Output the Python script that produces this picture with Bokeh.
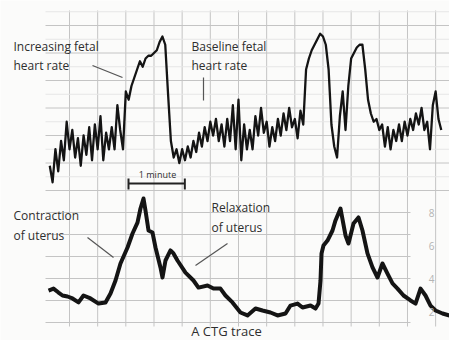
from bokeh.plotting import figure
from bokeh.models import Range1d, Label
from bokeh.embed import file_html
from bokeh.resources import INLINE

# ---- data -------------------------------------------------------------
# Fetal heart rate (bpm), sampled every 0.05 min starting at 0.15 min
fhr_t0 = 0.15
fhr_dt = 0.05
fhr_bpm = [
    129, 123, 135, 127, 138, 131, 145, 135, 142, 132,
    139, 129, 140, 133, 143, 131, 144, 135, 147, 131,
    141, 135, 143, 135, 151, 142, 135, 156, 153, 158,
    161, 164, 167, 165, 168, 169, 169, 170, 171, 174,
    176, 173, 155, 138, 132, 135, 130, 135, 131, 136,
    132, 138, 134, 141, 136, 143, 138, 145, 140, 146,
    138, 144, 136, 146, 138, 151, 135, 153, 131, 144,
    135, 142, 135, 147, 140, 150, 141, 145, 136, 143,
    138, 146, 140, 148, 142, 150, 143, 146, 139, 149,
    144, 164, 168, 171, 173, 175, 177, 176, 173, 164,
    144, 136, 132, 147, 156, 142, 158, 168, 170, 172,
    173, 173, 164, 153, 148, 145, 146, 142, 144, 136,
    143, 135, 142, 138, 144, 138, 145, 140, 146, 142,
    148, 144, 150, 142, 145, 135, 151, 156, 146, 142,
]
fhr_time = [round(fhr_t0 + i * fhr_dt, 3) for i in range(len(fhr_bpm))]

# Uterine activity (pressure scale, labels 2,4,6,8)
ua_time = [
    0.128, 0.216, 0.305, 0.376, 0.465, 0.553, 0.660, 0.749, 0.873, 1.015,
    1.139, 1.228, 1.317, 1.405, 1.530, 1.619, 1.707, 1.760, 1.814, 1.849,
    1.903, 1.973, 2.027, 2.115, 2.151, 2.204, 2.293, 2.346, 2.417, 2.559,
    2.701, 2.790, 2.950, 3.056, 3.180, 3.269, 3.393, 3.535, 3.660, 3.802,
    3.926, 4.068, 4.193, 4.335, 4.423, 4.548, 4.637, 4.779, 4.868, 4.921,
    4.956, 4.974, 5.009, 5.080, 5.169, 5.222, 5.311, 5.400, 5.453, 5.542,
    5.630, 5.701, 5.790, 5.879, 5.968, 6.056, 6.145, 6.234, 6.323, 6.430,
    6.554, 6.643, 6.732, 6.820, 6.909, 6.998, 7.122, 7.246,
]
ua_pressure = [
    3.27, 3.39, 3.15, 2.97, 2.91, 2.79, 2.55, 2.97, 2.79, 2.48,
    2.55, 3.09, 3.88, 4.91, 5.88, 6.73, 7.39, 8.24, 8.85, 8.12,
    6.91, 6.79, 5.88, 4.67, 4.06, 5.09, 5.70, 5.52, 5.09, 4.36,
    3.88, 3.45, 3.58, 3.39, 3.39, 2.97, 2.55, 1.94, 1.76, 2.18,
    2.06, 1.94, 1.76, 1.88, 2.36, 2.48, 2.24, 2.36, 2.18, 2.48,
    3.88, 5.52, 6.00, 6.30, 6.91, 7.52, 8.24, 6.61, 6.12, 7.33,
    7.70, 6.91, 5.52, 4.67, 4.06, 4.91, 4.30, 3.70, 3.39, 2.97,
    2.67, 2.48, 3.39, 2.97, 2.36, 2.06, 1.88, 1.76,
]
ua_tick_values = [8, 6, 4, 2]
ua_tick_labels = ["8", "6", "4", "2"]

# ---- page-space helpers (layout only) ---------------------------------
def tx(xpx):
    return (xpx - 40.83) / 56.33

def fy(ypx):
    return 180 - (ypx - 25) / 2.75

W, H = 449, 340
p = figure(width=W, height=H, output_backend="svg", toolbar_location=None,
           x_range=Range1d(tx(0), tx(W)), y_range=Range1d(fy(H), fy(0)),
           min_border=0)
p.extra_y_ranges = {"ua": Range1d((344 - H) / 16.5, 344 / 16.5)}
p.xaxis.visible = False
p.yaxis.visible = False
p.xgrid.visible = False
p.ygrid.visible = False
p.outline_line_color = None
p.background_fill_color = "#fbfbfa"
p.border_fill_color = "#fbfbfa"

grid_col = "#c4c4c4"
minor_col = "#e6e6e6"

# vertical grid lines (every half minute)
vx = [0.5 * k for k in range(1, 15)]
p.segment(x0=vx, y0=[fy(10)] * len(vx), x1=vx, y1=[fy(326)] * len(vx),
          line_color=grid_col, line_width=1)
# minor horizontal lines
mh = [185, 175, 165, 155, 145, 135, 125]
p.segment(x0=[tx(45)] * len(mh), y0=mh, x1=[tx(449)] * len(mh), y1=mh,
          line_color=minor_col, line_width=1)
# horizontal grid lines, heart-rate panel
hb = [180, 170, 160, 150, 140, 130, 120]
p.segment(x0=[tx(45)] * len(hb), y0=hb, x1=[tx(449)] * len(hb), y1=hb,
          line_color=grid_col, line_width=1)
# horizontal grid lines, uterine panel
hu = [8 - k * 4 / 3 for k in range(6)]
p.segment(x0=[tx(45)] * len(hu), y0=hu, x1=[tx(410)] * len(hu), y1=hu,
          line_color=grid_col, line_width=1, y_range_name="ua")

# traces
p.line(fhr_time, fhr_bpm, line_color="#141414", line_width=2.3,
       line_join="round")
p.line(ua_time, ua_pressure, line_color="#141414", line_width=4,
       line_join="round", y_range_name="ua")

# right-side scale labels
p.text(x=[tx(431)] * 4, y=ua_tick_values, text=ua_tick_labels,
       y_range_name="ua", text_color="#b4b4b4", text_font_size="10px",
       text_align="center", text_baseline="middle",
       text_font={"value": "Open Sans"})

txt_col = "#2e2e2e"
font = "Open Sans"

def label(x, y, s, size="12px", align="left", baseline="top"):
    p.add_layout(Label(x=tx(x), y=fy(y), text=s, text_font=font,
                       text_font_size=size, text_color=txt_col,
                       text_align=align, text_baseline=baseline))

label(13, 37, "Increasing fetal")
label(13, 56, "heart rate")
label(191, 37, "Baseline fetal")
label(191, 56, "heart rate")
label(13, 206, "Contraction")
label(13, 226, "of uterus")
label(211, 198, "Relaxation")
label(211, 218, "of uterus")
label(157, 180, "1 minute", size="9px", align="center", baseline="bottom")
label(226, 339, "A CTG trace", size="13px", align="center", baseline="bottom")

# pointer lines
ptr = dict(line_color="#555555", line_width=1.2)
p.line([tx(92), tx(122)], [fy(65), fy(77)], **ptr)
p.line([tx(203), tx(203)], [fy(77), fy(100)], **ptr)
p.line([tx(87), tx(113)], [fy(237), fy(257)], **ptr)
p.line([tx(227), tx(195)], [fy(243), fy(265)], **ptr)

# one-minute bar
b0 = tx(128)
b1 = b0 + 1.0
p.line([b0, b1], [fy(183), fy(183)], line_color="#222222", line_width=2)
p.line([b0, b0], [fy(178), fy(189)], line_color="#222222", line_width=2)
p.line([b1, b1], [fy(178), fy(189)], line_color="#222222", line_width=2)

open("out.html", "w").write(file_html(p, INLINE))
